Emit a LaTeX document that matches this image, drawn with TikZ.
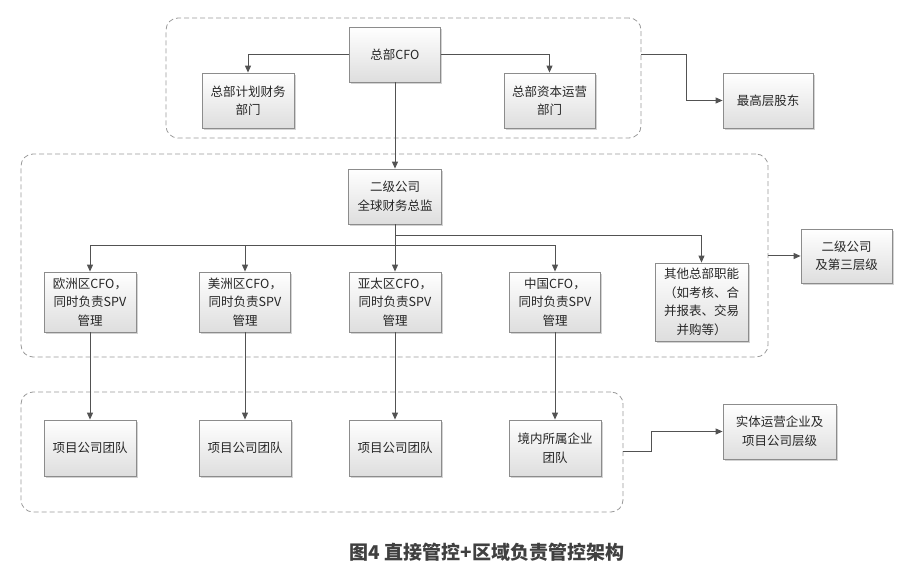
\documentclass[tikz,border=0pt]{standalone}
\usepackage{fontspec}
\setmainfont{Noto Sans CJK SC}
\usetikzlibrary{arrows.meta,shadows}
\begin{document}
\begin{tikzpicture}[x=1pt, y=-1pt,
    box/.style={draw=black!45, line width=0.8pt, top color=white, bottom color=black!13,
        drop shadow={shadow xshift=1.6pt, shadow yshift=-1.6pt, opacity=0.35, fill=black!50},
        align=center, text=black!85, inner sep=2pt,
        font=\fontsize{12.5}{18.5}\selectfont},
    grp/.style={draw=black!40, line width=0.8pt, dash pattern=on 5pt off 3pt, rounded corners=12pt},
    arr/.style={draw=black!68, line width=1pt, -{Triangle[length=7pt,width=6pt]}}]
    \useasboundingbox (0,0) rectangle (906,569);
    \node[grp, minimum width=475, minimum height=120] (g1) at (403.5,78) {};
    \node[grp, minimum width=747, minimum height=203] (g2) at (394.5,255.5) {};
    \node[grp, minimum width=602, minimum height=120] (g3) at (322,452) {};
    \node[box, minimum width=91, minimum height=55] (cfo) at (395,54.5) {总部CFO};
    \node[box, minimum width=92, minimum height=55] (plan) at (248,100.5) {总部计划财务\\部门};
    \node[box, minimum width=91, minimum height=55] (capital) at (549.5,100.5) {总部资本运营\\部门};
    \node[box, minimum width=90, minimum height=55] (share) at (768,100.5) {最高层股东};
    \node[box, minimum width=93, minimum height=55] (sec) at (395,196.5) {二级公司\\全球财务总监};
    \node[box, minimum width=92, minimum height=60] (eu) at (90,302) {欧洲区CFO，\\同时负责SPV\\管理};
    \node[box, minimum width=91, minimum height=60] (am) at (245,302) {美洲区CFO，\\同时负责SPV\\管理};
    \node[box, minimum width=92, minimum height=60] (ap) at (395,302) {亚太区CFO，\\同时负责SPV\\管理};
    \node[box, minimum width=91, minimum height=60] (cn) at (555,302) {中国CFO，\\同时负责SPV\\管理};
    \node[box, minimum width=93, minimum height=78] (other) at (701.5,302) {其他总部职能\\（如考核、合\\并报表、交易\\并购等）};
    \node[box, minimum width=91, minimum height=54] (tier2) at (846.5,256) {二级公司\\及第三层级};
    \node[box, minimum width=92, minimum height=56] (p1) at (90,448) {项目公司团队};
    \node[box, minimum width=92, minimum height=56] (p2) at (245,448) {项目公司团队};
    \node[box, minimum width=92, minimum height=56] (p3) at (395,448) {项目公司团队};
    \node[box, minimum width=92, minimum height=56] (dom) at (555,448) {境内所属企业\\团队};
    \node[box, minimum width=113, minimum height=55] (entity) at (779.5,431.5) {实体运营企业及\\项目公司层级};
    \node[font=\bfseries\fontsize{19}{22}\selectfont, text=black!75] (title) at (487,552) {图4 直接管控+区域负责管控架构};
    \coordinate (bus) at (395,246);
    \coordinate (bus2) at (395,236);
    \draw[arr] (cfo.west) -| (plan.north);
    \draw[arr] (cfo.east) -| (capital.north);
    \draw[arr] (cfo.south) -- (sec.north);
    \draw[draw=black!68, line width=1pt] (sec.south) -- (bus);
    \foreach \n in {eu,am,ap,cn}
        \draw[arr] (bus) -| (\n.north);
    \draw[arr] (bus2) -| (other.north);
    \draw[arr] (eu.south) -- (p1.north);
    \draw[arr] (am.south) -- (p2.north);
    \draw[arr] (ap.south) -- (p3.north);
    \draw[arr] (cn.south) -- (dom.north);
    \draw[arr] (g1.east |- cfo.east) -- ++(45,0) |- (share.west);
    \draw[arr] (g2.east |- tier2.west) -- (tier2.west);
    \draw[arr] (g3.east) -- ++(28,0) |- (entity.west);
\end{tikzpicture}
\end{document}
